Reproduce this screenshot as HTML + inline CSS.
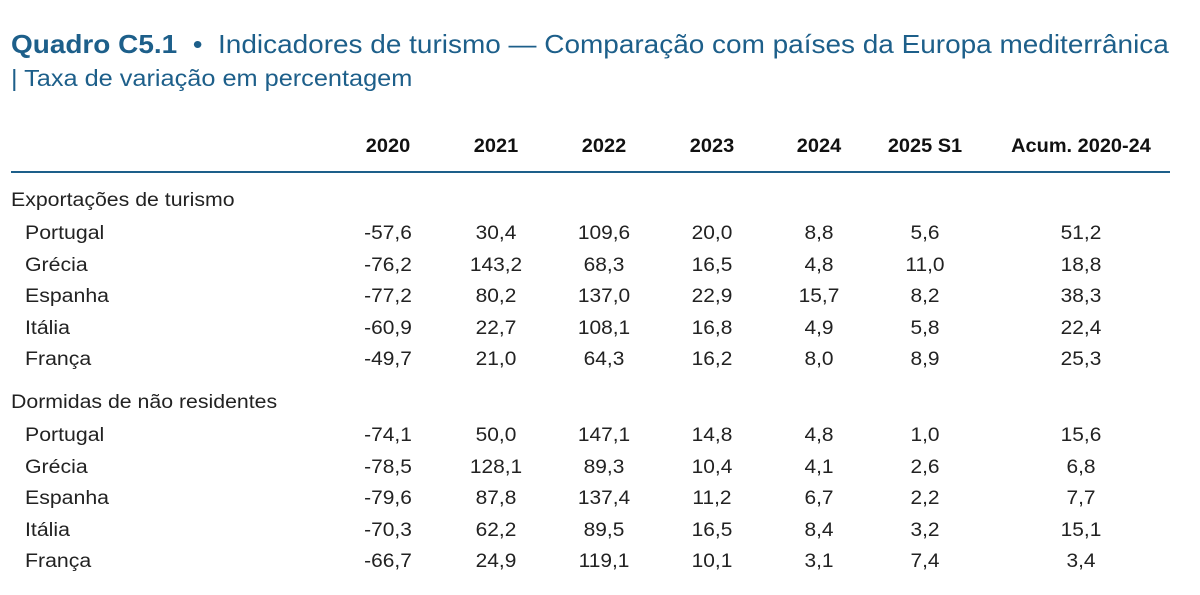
<!DOCTYPE html>
<html><head><meta charset="utf-8"><style>
body{margin:0;width:1200px;height:595px;background:#fff;position:relative;overflow:hidden;font-family:"Liberation Sans",sans-serif;color:#222}
.t{position:absolute;white-space:nowrap;transform-origin:0 0}
.title{left:11px;top:29px;font-size:26px;color:#1d5f8a;transform:scaleX(1.075)}
.sub{left:11px;top:65px;font-size:23px;color:#1d5f8a;transform:scaleX(1.1)}
.h{font-weight:bold;font-size:19px;color:#111;transform-origin:50% 0;transform:translateX(-50%) scaleX(1.05)}
.c{font-size:19px;transform-origin:50% 0;transform:translateX(-50%) scaleX(1.1)}
.l{font-size:19px;transform:scaleX(1.12)}
.line{position:absolute;left:11px;width:1159px;top:171px;height:2px;background:#1d5f8a}
</style></head><body>
<div class="t title"><b>Quadro C5.1</b> &nbsp;•&nbsp; Indicadores de turismo — Comparação com países da Europa mediterrânica</div>
<div class="t sub">| Taxa de variação em percentagem</div>
<div class="line"></div>
<div id="g"></div>
<script>
const cols=[388,496,604,712,819,925,1081];
const hdr=["2020","2021","2022","2023","2024","2025 S1","Acum. 2020-24"];
let h="";
hdr.forEach((s,i)=>h+=`<div class="t h" style="left:${cols[i]}px;top:136px">${s}</div>`);
const sec=[["Exportações de turismo",190,[["Portugal","-57,6","30,4","109,6","20,0","8,8","5,6","51,2"],["Grécia","-76,2","143,2","68,3","16,5","4,8","11,0","18,8"],["Espanha","-77,2","80,2","137,0","22,9","15,7","8,2","38,3"],["Itália","-60,9","22,7","108,1","16,8","4,9","5,8","22,4"],["França","-49,7","21,0","64,3","16,2","8,0","8,9","25,3"]]],
["Dormidas de não residentes",392,[["Portugal","-74,1","50,0","147,1","14,8","4,8","1,0","15,6"],["Grécia","-78,5","128,1","89,3","10,4","4,1","2,6","6,8"],["Espanha","-79,6","87,8","137,4","11,2","6,7","2,2","7,7"],["Itália","-70,3","62,2","89,5","16,5","8,4","3,2","15,1"],["França","-66,7","24,9","119,1","10,1","3,1","7,4","3,4"]]]];
sec.forEach(([name,y,rows])=>{
 h+=`<div class="t l" style="left:11px;top:${y}px">${name}</div>`;
 rows.forEach((r,j)=>{const yy=y+33+j*31.6;
  h+=`<div class="t l" style="left:25px;top:${yy}px">${r[0]}</div>`;
  for(let i=1;i<8;i++)h+=`<div class="t c" style="left:${cols[i-1]}px;top:${yy}px">${r[i]}</div>`;});
});
document.getElementById("g").innerHTML=h;
</script>
</body></html>
